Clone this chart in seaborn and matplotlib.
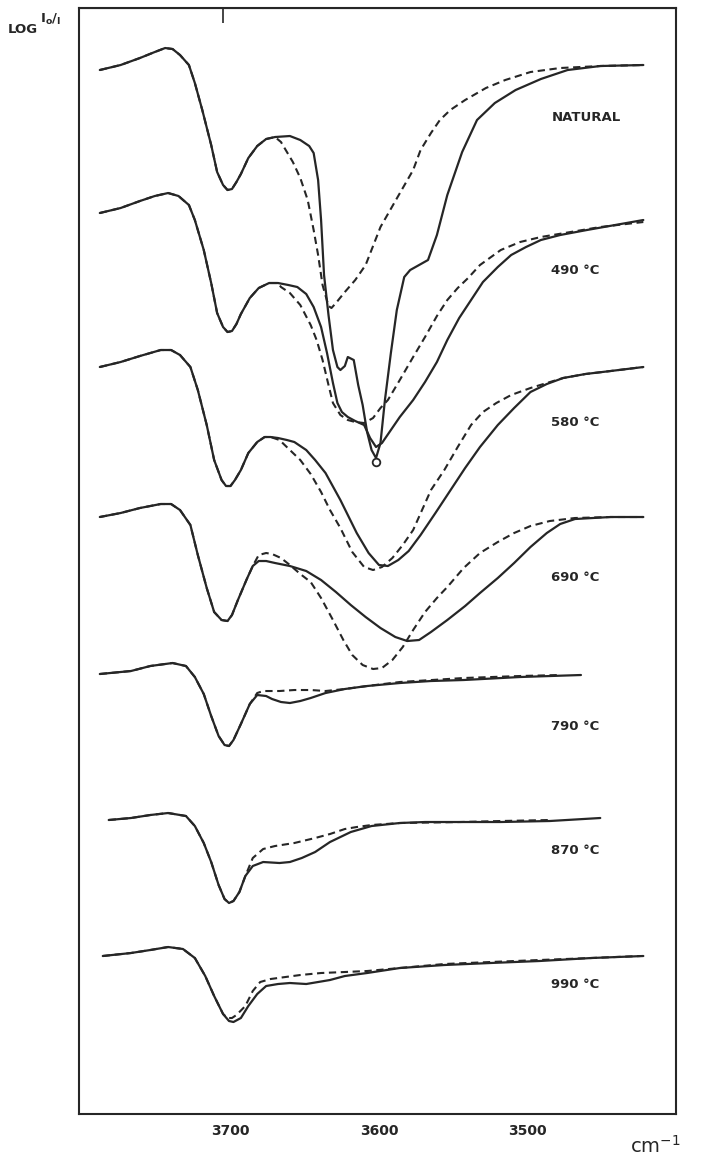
import numpy as np
import pandas as pd
import matplotlib
matplotlib.use('Agg')
import matplotlib.pyplot as plt
import seaborn as sns

sns.set_style('white')
plt.rcParams['font.family'] = ['DejaVu Sans']

# IR spectra, OH stretching region.
# Each spectrum: a shared left part (solid and dashed overlap) plus
# separate solid and dashed tails. Values are deflections (arbitrary units)
# from the spectrum's own baseline; offsets stack the spectra.

nat_left_wn = [3788, 3774, 3761, 3751, 3744, 3739, 3734, 3728, 3724, 3719, 3713, 3709, 3705, 3702, 3699, 3696, 3693, 3688, 3682, 3676, 3670]
nat_left_val = [0, 5, 12, 18, 22, 21, 15, 5, -13, -40, -75, -102, -115, -120, -119, -112, -104, -88, -76, -69, -67]
nat_solid_wn = [3660, 3653, 3647, 3644, 3641, 3639, 3637, 3634, 3631, 3628, 3626, 3623, 3621, 3617, 3614, 3611, 3608, 3605, 3602, 3599,
                3596, 3592, 3588, 3583, 3579, 3573, 3567, 3561, 3554, 3544, 3534, 3522, 3508, 3491, 3473, 3451, 3422]
nat_solid_val = [-66, -70, -76, -83, -110, -150, -205, -245, -280, -297, -300, -296, -287, -290, -315, -335, -362, -380, -388, -373,
                 -330, -283, -240, -207, -200, -195, -190, -165, -125, -82, -50, -33, -20, -9, 0, 4, 5]
nat_dash_wn = [3666, 3662, 3658, 3653, 3648, 3644, 3641, 3638, 3634, 3632, 3629, 3623, 3616, 3609, 3599, 3589, 3577, 3572, 3565, 3559,
               3552, 3542, 3528, 3515, 3498, 3478, 3451, 3422]
nat_dash_val = [-72, -82, -92, -108, -130, -160, -185, -215, -236, -238, -233, -222, -210, -195, -157, -131, -100, -80, -63, -50,
                -40, -30, -18, -10, -2, 2, 4, 5]
nat_tip_wn = [3602]
nat_tip_val = [-392]

r490_left_wn = [3788, 3774, 3761, 3751, 3742, 3735, 3728, 3724, 3718, 3713, 3709, 3705, 3702, 3699, 3696, 3693, 3687, 3681, 3674, 3668]
r490_left_val = [0, 5, 12, 17, 20, 17, 8, -7, -37, -70, -100, -114, -119, -118, -111, -101, -85, -75, -70, -70]
r490_solid_wn = [3661, 3655, 3649, 3644, 3639, 3635, 3631, 3628, 3625, 3621, 3616, 3610, 3606, 3602, 3598, 3592, 3586, 3577, 3569, 3561,
                 3554, 3546, 3538, 3530, 3520, 3511, 3501, 3491, 3478, 3460, 3441, 3422]
r490_solid_val = [-72, -74, -81, -94, -114, -140, -170, -190, -199, -204, -208, -212, -225, -234, -230, -217, -204, -187, -169, -149,
                  -127, -105, -87, -69, -54, -42, -34, -27, -22, -17, -12, -7]
r490_dash_wn = [3666, 3660, 3653, 3646, 3642, 3638, 3634, 3631, 3626, 3621, 3616, 3610, 3604, 3599, 3594, 3586, 3577, 3569, 3561, 3554,
                3547, 3540, 3532, 3518, 3505, 3491, 3471, 3451, 3422]
r490_dash_val = [-74, -80, -92, -112, -127, -147, -172, -190, -202, -207, -209, -210, -205, -195, -187, -167, -144, -124, -103, -87,
                 -75, -65, -52, -37, -29, -24, -19, -14, -9]

r580_left_wn = [3788, 3774, 3761, 3747, 3740, 3734, 3727, 3722, 3716, 3711, 3706, 3703, 3700, 3697, 3693, 3688, 3682, 3677, 3673]
r580_left_val = [0, 5, 11, 17, 17, 12, 0, -23, -58, -93, -113, -119, -119, -113, -103, -86, -75, -70, -70]
r580_solid_wn = [3668, 3662, 3657, 3649, 3643, 3636, 3626, 3615, 3607, 3600, 3594, 3587, 3580, 3572, 3562, 3554, 3542, 3532, 3520, 3509,
                 3498, 3487, 3476, 3461, 3444, 3422]
r580_solid_val = [-71, -73, -75, -83, -93, -106, -133, -166, -186, -198, -199, -193, -184, -168, -146, -128, -101, -80, -58, -41,
                  -25, -17, -11, -7, -4, 0]
r580_dash_wn = [3667, 3660, 3653, 3646, 3639, 3633, 3626, 3618, 3610, 3604, 3598, 3591, 3584, 3577, 3565, 3556, 3547, 3538, 3530, 3521,
                3511, 3498, 3487, 3476, 3461, 3444, 3422]
r580_dash_val = [-73, -83, -93, -107, -125, -143, -161, -185, -200, -203, -200, -191, -178, -163, -123, -103, -80, -58, -45, -36,
                 -28, -21, -16, -11, -7, -4, 0]

r690_left_wn = [3788, 3774, 3761, 3747, 3740, 3734, 3727, 3722, 3716, 3711, 3706, 3702, 3699, 3695, 3689, 3685]
r690_left_val = [0, 4, 9, 13, 13, 7, -8, -38, -71, -95, -103, -104, -98, -83, -62, -49]
r690_solid_wn = [3681, 3676, 3670, 3660, 3649, 3639, 3629, 3619, 3609, 3599, 3589, 3581, 3573, 3565, 3554, 3542, 3532, 3520, 3509, 3498,
                 3487, 3478, 3468, 3444, 3422]
r690_solid_val = [-44, -44, -46, -49, -54, -63, -75, -88, -100, -111, -120, -124, -123, -115, -103, -89, -76, -61, -46, -30,
                  -16, -7, -2, 0, 0]
r690_dash_wn = [3681, 3676, 3672, 3666, 3660, 3653, 3646, 3639, 3631, 3624, 3618, 3611, 3604, 3598, 3591, 3584, 3577, 3569, 3561, 3554,
                3543, 3532, 3520, 3509, 3498, 3485, 3468, 3444, 3422]
r690_dash_val = [-38, -36, -37, -41, -48, -57, -65, -81, -103, -123, -138, -148, -152, -151, -143, -130, -113, -95, -81, -70,
                 -51, -36, -25, -16, -9, -4, -1, 0, 0]

r790_left_wn = [3788, 3767, 3754, 3739, 3730, 3724, 3718, 3713, 3708, 3704, 3701, 3698, 3693, 3687]
r790_left_val = [0, 3, 8, 11, 8, -3, -20, -42, -62, -71, -72, -66, -50, -30]
r790_solid_wn = [3682, 3676, 3672, 3666, 3660, 3653, 3646, 3636, 3623, 3608, 3586, 3565, 3543, 3505, 3464]
r790_solid_val = [-21, -22, -25, -28, -29, -27, -24, -19, -15, -12, -9, -7, -6, -3, -1]
r790_dash_wn = [3682, 3678, 3673, 3667, 3657, 3646, 3636, 3623, 3608, 3586, 3543, 3505, 3478]
r790_dash_val = [-19, -17, -17, -17, -16, -16, -17, -15, -12, -8, -4, -2, -1]

r870_left_wn = [3782, 3767, 3754, 3742, 3730, 3724, 3718, 3713, 3708, 3704, 3701, 3698, 3694, 3690]
r870_left_val = [0, 2, 5, 7, 4, -6, -23, -42, -65, -79, -83, -81, -72, -56]
r870_solid_wn = [3685, 3678, 3667, 3660, 3652, 3643, 3633, 3619, 3605, 3586, 3569, 3545, 3518, 3485, 3451]
r870_solid_val = [-46, -42, -43, -42, -38, -32, -22, -12, -6, -3, -2, -2, -2, -1, 2]
r870_dash_wn = [3685, 3678, 3670, 3657, 3643, 3633, 3623, 3615, 3605, 3586, 3545, 3518, 3485]
r870_dash_val = [-38, -29, -26, -23, -18, -14, -9, -7, -5, -3, -2, -1, 0]

r990_left_wn = [3786, 3767, 3754, 3742, 3732, 3724, 3717, 3711, 3705]
r990_left_val = [0, 3, 6, 9, 7, -2, -20, -40, -58]
r990_solid_wn = [3701, 3698, 3693, 3688, 3682, 3676, 3668, 3660, 3649, 3641, 3633, 3623, 3608, 3586, 3556, 3525, 3492, 3457, 3422]
r990_solid_val = [-65, -66, -62, -50, -38, -30, -28, -27, -28, -26, -24, -20, -17, -12, -9, -7, -5, -2, 0]
r990_dash_wn = [3702, 3699, 3696, 3690, 3685, 3680, 3673, 3663, 3653, 3639, 3623, 3608, 3586, 3556, 3525, 3492, 3457, 3424]
r990_dash_val = [-62, -62, -59, -50, -35, -26, -23, -21, -19, -17, -16, -15, -12, -8, -6, -4, -2, 0]

labels = ['NATURAL', '490 °C', '580 °C', '690 °C', '790 °C', '870 °C', '990 °C']
offsets = [1042, 899, 745, 595, 438, 292, 156]
label_y = [995, 842, 690, 535, 386, 262, 128]
label_x = 3484

spectra = [
    (nat_left_wn, nat_left_val, nat_solid_wn, nat_solid_val, nat_dash_wn, nat_dash_val),
    (r490_left_wn, r490_left_val, r490_solid_wn, r490_solid_val, r490_dash_wn, r490_dash_val),
    (r580_left_wn, r580_left_val, r580_solid_wn, r580_solid_val, r580_dash_wn, r580_dash_val),
    (r690_left_wn, r690_left_val, r690_solid_wn, r690_solid_val, r690_dash_wn, r690_dash_val),
    (r790_left_wn, r790_left_val, r790_solid_wn, r790_solid_val, r790_dash_wn, r790_dash_val),
    (r870_left_wn, r870_left_val, r870_solid_wn, r870_solid_val, r870_dash_wn, r870_dash_val),
    (r990_left_wn, r990_left_val, r990_solid_wn, r990_solid_val, r990_dash_wn, r990_dash_val),
]

ink = '#262626'

fig = plt.figure(figsize=(7.1, 11.62), dpi=100)
ax = fig.add_axes([0.1113, 0.0413, 0.8408, 0.9518])

for (lw_, lv, sw, sv, dw, dv), off in zip(spectra, offsets):
    solid_x = np.array(lw_ + sw)
    solid_y = np.array(lv + sv) + off
    dash_x = np.array(lw_ + dw)
    dash_y = np.array(lv + dv) + off
    sns.lineplot(x=dash_x, y=dash_y, ax=ax, color=ink, lw=1.5, sort=False,
                 estimator=None, linestyle=(0, (3.5, 2.2)),
                 dash_joinstyle='round')
    sns.lineplot(x=solid_x, y=solid_y, ax=ax, color=ink, lw=1.6, sort=False,
                 estimator=None, solid_joinstyle='round',
                 solid_capstyle='round')

# small open circle at the tip of the sharp 3600 band
ax.plot(nat_tip_wn, np.array(nat_tip_val) + offsets[0], 'o', ms=5.5,
        mfc='white', mec=ink, mew=1.3)

for lab, y in zip(labels, label_y):
    ax.text(label_x, y, lab, fontsize=9.5, fontweight='bold', color=ink,
            ha='left', va='center')

ax.set_xlim(3802, 3400)
ax.set_ylim(-2, 1104)
ax.set_xticks([3700, 3600, 3500])
ax.set_xticklabels(['3700', '3600', '3500'], fontweight='bold', fontsize=10)
ax.set_yticks([])
ax.tick_params(axis='x', direction='in', length=11, width=1.5, color=ink,
               labelcolor=ink, pad=7)
ax.set_xlabel('')
ax.set_ylabel('')
for s in ax.spines.values():
    s.set_visible(True)
    s.set_color(ink)
    s.set_linewidth(1.5)

top = ax.secondary_xaxis('top')
top.set_xticks([3705])
top.set_xticklabels([])
top.tick_params(direction='in', length=11, width=1.2, color=ink)

fig.text(0.011, 0.975, 'LOG', fontsize=9.5, fontweight='bold', color=ink,
         ha='left', va='center')
fig.text(0.057, 0.983, r'I$_\mathbf{o}$/$_\mathbf{I}$', fontsize=9.5,
         fontweight='bold', color=ink, ha='left', va='center')
fig.text(0.888, 0.014, r'cm$^{-1}$', fontsize=14, color=ink,
         ha='left', va='center')

fig.savefig('out.png', dpi=100, facecolor='white')
